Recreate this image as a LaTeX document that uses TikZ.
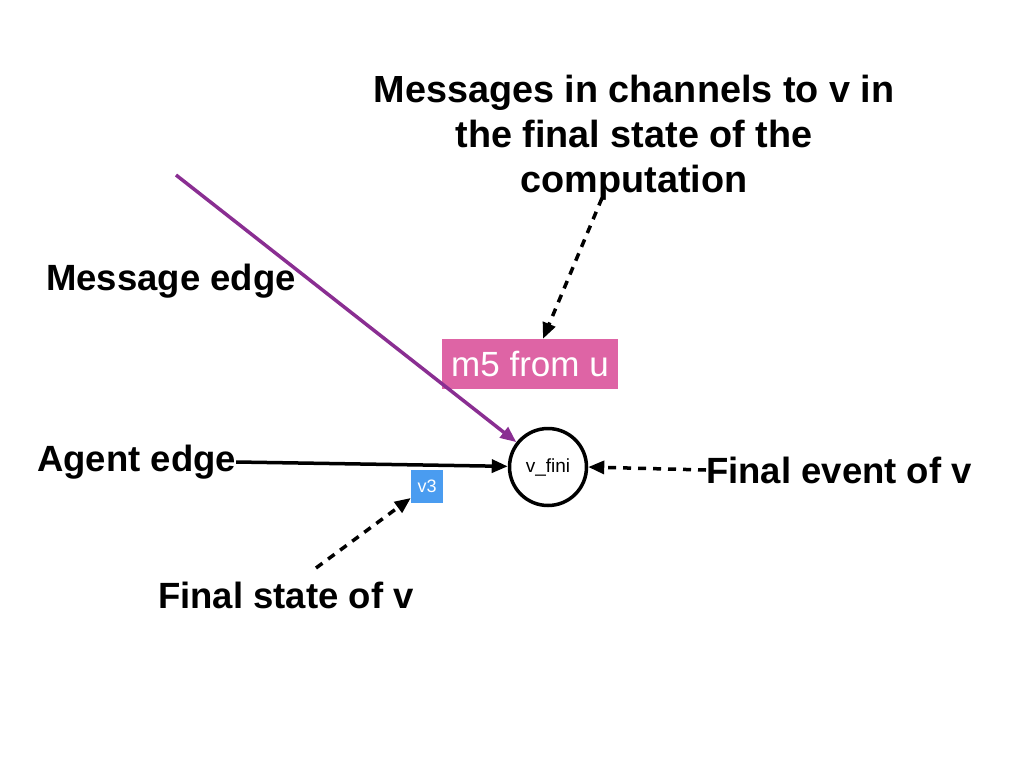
\documentclass[tikz,border=0pt]{standalone}
\usepackage{fontspec}
\setmainfont{Liberation Sans}
\usetikzlibrary{arrows.meta}
\definecolor{msgpurple}{HTML}{8A2E92}
\definecolor{boxpink}{HTML}{DE64A5}
\definecolor{boxblue}{HTML}{4A9CF0}
\tikzset{
  lbl/.style={font=\fontsize{36.5}{45}\selectfont\bfseries, inner sep=0pt, align=center},
  tip/.style={-{Triangle[length=16pt,width=13pt]}},
  solidarrow/.style={tip, line width=3.5pt, black},
  dasharrow/.style={tip, line width=3.5pt, black, dash pattern=on 8pt off 7pt},
  msgarrow/.style={tip, line width=3.5pt, msgpurple},
}
\begin{document}
\begin{tikzpicture}[x=1pt,y=-1pt]
\useasboundingbox (0,0) rectangle (1024,768);
\node[lbl, font=\fontsize{37.8}{45}\selectfont\bfseries] (title) at (634,138) {Messages in channels to v in\\the final state of the\\computation};
\node[lbl] (msgedge) at (171,281) {Message edge};
\node[lbl, anchor=west] (agent) at (37,462) {Agent edge};
\node[lbl, anchor=west] (fevent) at (706,470) {Final event of v};
\node[lbl] (fstate) at (286,595) {Final state of v};
\node[fill=boxpink, text=white, font=\fontsize{35}{40}\selectfont, minimum width=176pt, minimum height=50pt, inner sep=0pt] (m5) at (530,364) {m5 from u};
\node[circle, draw, line width=3.5pt, minimum size=77pt, inner sep=0pt, font=\fontsize{19}{22}\selectfont] (v) at (548,467) {v\_fini};
\node[fill=boxblue, text=white, font=\fontsize{18}{22}\selectfont, minimum width=32pt, minimum height=33pt, inner sep=0pt] (v3) at (427,486) {v3};
\coordinate (ms) at (176,175);
\coordinate (t1) at (602,198);
\coordinate (fs1) at (316,568);
\draw[msgarrow] (ms) -- (v);
\draw[solidarrow] (agent.east) -- (v);
\draw[dasharrow] (fevent.west) -- (v.east);
\draw[dasharrow] (t1) -- ([xshift=13pt]m5.north);
\draw[dasharrow] (fs1) -- (v3);
\end{tikzpicture}
\end{document}
